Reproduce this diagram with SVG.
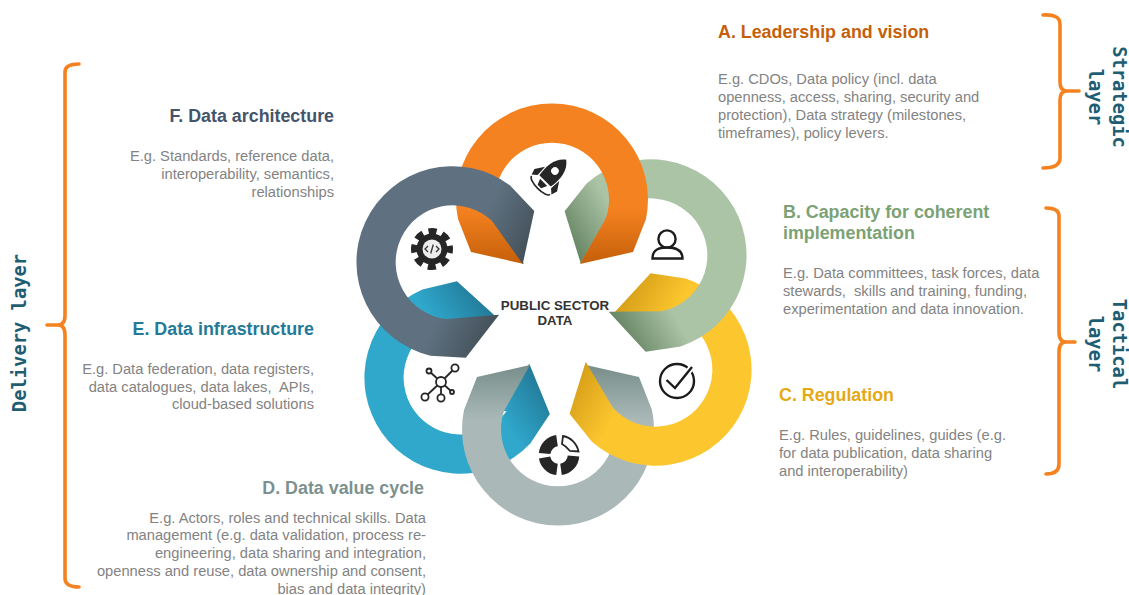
<svg xmlns="http://www.w3.org/2000/svg" width="1129" height="595" viewBox="0 0 1129 595">
<style>
text{font-family:"Liberation Sans",Arial,sans-serif}
.t{font-size:17.85px;font-weight:700}
.b{font-size:14.7px;fill:#838383}
.e{text-anchor:end}
.l{font-family:"DejaVu Sans Mono",monospace;font-size:18.8px;font-weight:700;fill:#1f5e72;text-anchor:middle}
.br{fill:none;stroke:#f58220;stroke-width:3.6;stroke-linecap:round;stroke-linejoin:round}
.ik{fill:#262626}
.is{fill:none;stroke:#1c1c1c;stroke-width:2.4}
</style>
<defs>
<path id="ring" d="M-94 20A96 96 0 1 1 94 20L81 53L28 65L54 19A57 57 0 1 0-54 19L-28 65L-81 53Z"/>
<path id="ring2" d="M-94 20A96 96 0 1 1 94 20L81 53L28 65L54 19A57 57 0 1 0-54 19L-48 12L-28 65L-81 53Z"/>
<linearGradient id="gA" gradientUnits="userSpaceOnUse" x1="0" y1="0" x2="0" y2="65"><stop offset=".15" stop-color="#f58220"/><stop offset="1" stop-color="#c55f0a"/></linearGradient>
<linearGradient id="gB" gradientUnits="userSpaceOnUse" x1="0" y1="0" x2="0" y2="65"><stop offset=".15" stop-color="#abc4a6"/><stop offset="1" stop-color="#668563"/></linearGradient>
<linearGradient id="gC" gradientUnits="userSpaceOnUse" x1="0" y1="0" x2="0" y2="65"><stop offset=".2" stop-color="#fcc62f"/><stop offset="1" stop-color="#d69f18"/></linearGradient>
<linearGradient id="gD" gradientUnits="userSpaceOnUse" x1="0" y1="0" x2="0" y2="65"><stop offset=".15" stop-color="#aab9b8"/><stop offset="1" stop-color="#788e8b"/></linearGradient>
<linearGradient id="gE" gradientUnits="userSpaceOnUse" x1="0" y1="0" x2="0" y2="65"><stop offset=".15" stop-color="#2fa8cc"/><stop offset="1" stop-color="#237a98"/></linearGradient>
<linearGradient id="gF" gradientUnits="userSpaceOnUse" x1="0" y1="0" x2="0" y2="65"><stop offset=".15" stop-color="#5f7180"/><stop offset="1" stop-color="#44515a"/></linearGradient>
</defs>
<g id="rings">
<use id="ring-E" href="#ring2" fill="url(#gE)" transform="translate(460 378) rotate(235)"/>
<use id="ring-D" href="#ring" fill="url(#gD)" transform="translate(558 430) rotate(180)"/>
<use id="ring-C" href="#ring" fill="url(#gC)" transform="translate(656 370) rotate(120)"/>
<use id="ring-B" href="#ring" fill="url(#gB)" transform="translate(651 255) rotate(60)"/>
<use id="ring-A" href="#ring" fill="url(#gA)" transform="translate(552 199)"/>
<use id="ring-F" href="#ring" fill="url(#gF)" transform="translate(452 262) rotate(295)"/>
</g>
<g id="center"><text x="555" y="310" text-anchor="middle" font-size="13.3" font-weight="700" fill="#333">PUBLIC SECTOR</text><text x="555" y="325" text-anchor="middle" font-size="13.3" font-weight="700" fill="#333">DATA</text></g>
<g id="icon-rocket" transform="translate(550 176) rotate(45)">
<path class="ik" d="M0-23C9-16 10-5 8 7H-8C-10-5-9-16 0-23Z"/><path class="ik" d="M-10-3L-16 6L-14 12L-9.500 8ZM10-3L16 6L14 12L9.500 8Z"/><path class="ik" d="M-5 9H5L2.500 15H-2.500Z"/><circle cx="0" cy="-7" r="3.800" fill="#fff"/>
<path d="M-13 13A13 4.500 0 0 0 13 13" fill="none" stroke="#262626" stroke-width="1.600"/>
</g>
<g id="icon-person"><circle class="is" cx="667" cy="239" r="8.600"/><path class="is" d="M652.500 258.500C652.500 250 658 247.500 667 247.500C676 247.500 682.500 250 682.500 258.500Z"/></g>
<g id="icon-check"><circle class="is" cx="677" cy="381" r="17"/><path d="M666.500 380L675 388L692 367" fill="none" stroke="#fff" stroke-width="6"/><path class="is" d="M666.500 380L675 388L692 367"/></g>
<g id="icon-pie" fill="none" stroke="#262626" stroke-width="11.500">
<path d="M557 440.600A14.500 14.500 0 0 0 544.600 453.500"/><path d="M544.600 457.500A14.500 14.500 0 0 0 557 469.400"/><path d="M561 469.400A14.500 14.500 0 0 0 573.500 456"/>
<path d="M563 436A19.500 19.500 0 0 1 578.500 451.500L570 451Q566 446 562 444Z" fill="#fff" stroke-width="1.800"/></g>
<g id="icon-network" fill="#fff" stroke="#262626" stroke-width="1.800"><path d="M441 382L455 368M441 382L429 371M441 382L425 397M441 382V398M441 382L452 392"/><circle cx="441" cy="382" r="5"/><circle cx="455" cy="368" r="3.600"/><circle cx="429" cy="371" r="2.500"/><circle cx="425" cy="397" r="3.600"/><circle cx="441" cy="398" r="3.600"/><circle cx="452" cy="392" r="2"/></g>
<g id="icon-gear"><circle cx="432" cy="249" r="15.500" fill="#262626"/><circle cx="432" cy="249" r="17.500" fill="none" stroke="#262626" stroke-width="7" stroke-dasharray="8 5.745" stroke-dashoffset="4"/><circle cx="432" cy="249" r="9.500" fill="#eee"/><path d="M428 246L425 249L428 252M436 246L439 249L436 252M433.300 244.500L430.700 253.500" fill="none" stroke="#333" stroke-width="1.300"/></g>
<g id="node-A"><text class="t" x="718" y="38" fill="#c55f0a">A. Leadership and vision</text>
<text class="b" x="718" y="84">E.g. CDOs, Data policy (incl. data</text><text class="b" x="718" y="102">openness, access, sharing, security and</text><text class="b" x="718" y="120">protection), Data strategy (milestones,</text><text class="b" x="718" y="138">timeframes), policy levers.</text></g>
<g id="node-B"><text class="t" x="783" y="218" fill="#7ba274">B. Capacity for coherent</text><text class="t" x="783" y="239" fill="#7ba274">implementation</text>
<text class="b" x="783" y="278">E.g. Data committees, task forces, data</text><text class="b" x="783" y="296" xml:space="preserve">stewards,  skills and training, funding,</text><text class="b" x="783" y="314">experimentation and data innovation.</text></g>
<g id="node-C"><text class="t" x="779" y="401" fill="#e5a914">C. Regulation</text>
<text class="b" x="779" y="440">E.g. Rules, guidelines, guides (e.g.</text><text class="b" x="779" y="458">for data publication, data sharing</text><text class="b" x="779" y="476">and interoperability)</text></g>
<g id="node-D"><text class="t e" x="424" y="494" fill="#7c918e">D. Data value cycle</text>
<text class="b e" x="426" y="523">E.g. Actors, roles and technical skills. Data</text><text class="b e" x="426" y="540">management (e.g. data validation, process re-</text><text class="b e" x="426" y="558">engineering, data sharing and integration,</text><text class="b e" x="426" y="576">openness and reuse, data ownership and consent,</text><text class="b e" x="426" y="594">bias and data integrity)</text></g>
<g id="node-E"><text class="t e" x="314" y="335" fill="#237a98">E. Data infrastructure</text>
<text class="b e" x="314" y="374">E.g. Data federation, data registers,</text><text class="b e" x="314" y="392" xml:space="preserve">data catalogues, data lakes,  APIs,</text><text class="b e" x="314" y="409">cloud-based solutions</text></g>
<g id="node-F"><text class="t e" x="334" y="122" fill="#44546a">F. Data architecture</text>
<text class="b e" x="334" y="161">E.g. Standards, reference data,</text><text class="b e" x="334" y="179">interoperability, semantics,</text><text class="b e" x="334" y="197">relationships</text></g>
<g id="connectors">
<path class="br" d="M1043 15Q1060 14 1060 24V82Q1060 91 1067 91H1079M1067 91Q1060 91 1060 100V158Q1060 168 1043 168"/>
<path class="br" d="M1046 208Q1059 208 1059 216V332Q1059 342 1066 342H1075M1066 342Q1059 342 1059 352V464Q1059 474 1046 474"/>
<path class="br" d="M79 64Q65 64 65 72V315Q65 325 58 325H47M58 325Q65 325 65 335V578Q65 587 79 587"/>
</g>
<g id="layers">
<text class="l" transform="translate(20 333) rotate(-90) translate(0 6)">Delivery layer</text>
<text class="l" transform="translate(1119 97) rotate(90) translate(0 6)">Strategic</text><text class="l" transform="translate(1095 97) rotate(90) translate(0 6)">layer</text>
<text class="l" transform="translate(1119 344) rotate(90) translate(0 6)">Tactical</text><text class="l" transform="translate(1095 344) rotate(90) translate(0 6)">layer</text>
</g>
</svg>
